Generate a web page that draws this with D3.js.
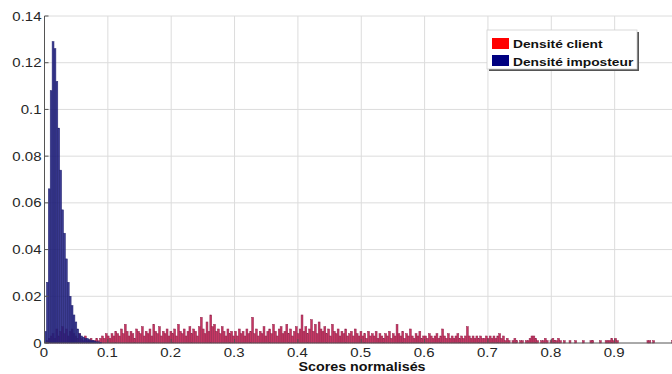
<!DOCTYPE html>
<html><head><meta charset="utf-8">
<script src="https://cdn.jsdelivr.net/npm/d3@7"></script>
<style>body{margin:0;background:#fff;}svg{display:block;}</style>
</head><body>
<svg id="c" width="672" height="374"></svg>
<script>
// histogram bin width (score units)
const binWidth = 0.003;
// Densité imposteur (blue), per bin starting at 0
const imposteur = [0.005,0.026,0.066,0.108,0.129,0.126,0.112,0.092,0.074,0.057,0.047,0.036,0.026,0.020,0.016,0.012,0.009,0.006,0.004,0.003,0.0025,0.002,0.002,0.0015,0.001,0.001,0.0008,0.0005,0.0005,0.0003];
// Densité client (red), per bin starting at 0
const client = [
0.000,0.001,0.002,0.003,0.004,0.002,0.006,0.003,0.005,0.007,0.004,0.006,0.003,0.005,0.006,0.004,0.003,0.002,0.004,0.002,0.001,0.003,0.001,0.001,0.002,0.001,0.001,0.002,0.001,0.002,0.003,0.002,0.004,0.003,
0.002,0.004,0.003,0.005,0.004,0.003,0.006,0.004,0.008,0.005,0.003,0.005,0.004,0.002,0.006,0.005,0.004,0.007,0.003,0.005,0.004,0.006,0.003,0.008,0.005,0.004,0.007,0.003,0.005,0.004,0.006,0.003,0.005,
0.004,0.006,0.003,0.008,0.005,0.004,0.006,0.003,0.005,0.007,0.004,0.006,0.005,0.003,0.007,0.011,0.006,0.004,0.009,0.005,0.012,0.007,0.008,0.005,0.006,0.004,0.007,0.005,0.003,0.006,0.004,0.005,0.003,
0.005,0.003,0.006,0.004,0.005,0.003,0.006,0.004,0.005,0.011,0.004,0.006,0.003,0.005,0.004,0.007,0.003,0.005,0.006,0.004,0.008,0.005,0.003,0.006,0.007,0.004,0.005,0.008,0.004,0.006,0.003,0.005,0.007,0.004,
0.006,0.012,0.005,0.007,0.004,0.006,0.010,0.005,0.008,0.004,0.009,0.006,0.005,0.007,0.004,0.006,0.003,0.008,0.005,0.004,0.006,0.003,0.005,0.004,0.006,0.003,0.004,0.005,0.003,0.006,0.004,0.003,0.005,
0.003,0.004,0.002,0.005,0.003,0.004,0.003,0.005,0.002,0.004,0.003,0.002,0.004,0.003,0.005,0.002,0.004,0.003,0.008,0.004,0.003,0.005,0.002,0.004,0.003,0.006,0.003,0.002,0.004,0.003,0.005,0.002,0.003,
0.003,0.002,0.004,0.003,0.002,0.003,0.004,0.002,0.003,0.006,0.003,0.002,0.004,0.002,0.003,0.002,0.003,0.004,0.002,0.003,0.002,0.003,0.007,0.003,0.002,0.003,0.002,0.003,0.002,0.003,0.002,0.002,0.003,0.002,
0.003,0.002,0.003,0.002,0.003,0.004,0.002,0.003,0.001,0.002,0.001,0.000,0.001,0.002,0.001,0.000,0.001,0.001,0.000,0.001,0.001,0.002,0.003,0.003,0.002,0.001,0.000,0.001,0.001,0.002,0.001,0.000,0.001,
0.002,0.001,0.001,0.002,0.001,0.000,0.001,0.000,0.000,0.001,0.000,0.000,0.001,0.000,0.000,0.000,0.001,0.000,0.000,0.000,0.001,0.001,0.000,0.000,0.000,0.001,0.000,0.000,0.001,0.001,0.001,0.002,0.001,
0.002,0.001,0.000,0.000,0.000,0.000,0.000,0.000,0.000,0.000,0.000,0.000,0.000,0.000,0.000,0.000,0.000,0.001,0.001,0.000,0.001,0.000,0.000,0.000,0.000,0.000,0.000,0.000,0.000,0.000,0.001,0.001,0.000
];
const xTicks = [0,0.1,0.2,0.3,0.4,0.5,0.6,0.7,0.8,0.9,1];
const xTickLabels = ["0","0.1","0.2","0.3","0.4","0.5","0.6","0.7","0.8","0.9"];
const yTicks = [0,0.02,0.04,0.06,0.08,0.1,0.12,0.14];
const yTickLabels = ["0","0.02","0.04","0.06","0.08","0.1","0.12","0.14"];
const xLabel = "Scores normalisés";
const legendLabels = ["Densité client","Densité imposteur"];
const legendColors = ["#ff0000","#000080"];

const svg = d3.select("#c");
const x = d3.scaleLinear().domain([0,1]).range([44.5,678]);
const y = d3.scaleLinear().domain([0,0.14]).range([343,16]);
const font = "'Liberation Sans', Arial, sans-serif";

function stretchedText(g, tx, ty, txt, opts){
  return g.append("g").attr("transform",`translate(${tx},${ty})`)
    .append("text").attr("transform",`scale(${opts.sx||1.2},1)`)
    .attr("text-anchor",opts.anchor||"middle")
    .attr("font-family",font).attr("font-size",opts.size||12.5)
    .attr("font-weight",opts.weight||"normal")
    .attr("fill",opts.fill||"#262626")
    .text(txt);
}

// grid
svg.append("g").selectAll("line").data(xTicks.filter(d=>d>0)).join("line")
  .attr("x1",d=>x(d)).attr("x2",d=>x(d)).attr("y1",y(0.14)).attr("y2",y(0))
  .attr("stroke","#dcdcdc").attr("stroke-width",1);
svg.append("g").selectAll("line").data(yTicks.filter(d=>d>0)).join("line")
  .attr("x1",x(0)).attr("x2",x(1)).attr("y1",d=>y(d)).attr("y2",d=>y(d))
  .attr("stroke","#dcdcdc").attr("stroke-width",1);

// red bars (client)
svg.append("g").selectAll("rect").data(client).join("rect")
  .attr("x",(d,i)=>x(i*binWidth)).attr("width",x(binWidth)-x(0))
  .attr("y",d=>y(d)).attr("height",d=>y(0)-y(d))
  .attr("fill","#c63662").attr("stroke","#92264e").attr("stroke-width",0.5);

// blue bars (imposteur), semi-transparent over red
svg.append("g").selectAll("rect").data(imposteur).join("rect")
  .attr("x",(d,i)=>x(i*binWidth)).attr("width",x(binWidth)-x(0))
  .attr("y",d=>y(d)).attr("height",d=>y(0)-y(d))
  .attr("fill","#1c1c80").attr("fill-opacity",0.86)
  .attr("stroke","#24246e").attr("stroke-width",0.5);

// axes lines
svg.append("line").attr("x1",x(0)).attr("x2",x(0)).attr("y1",y(0.14)).attr("y2",y(0))
  .attr("stroke","#555").attr("stroke-width",1);
svg.append("line").attr("x1",x(0)).attr("x2",x(1)).attr("y1",y(0)).attr("y2",y(0))
  .attr("stroke","#555").attr("stroke-width",1);
// inward ticks
svg.append("g").selectAll("line").data(yTicks).join("line")
  .attr("x1",x(0)).attr("x2",x(0)+4).attr("y1",d=>y(d)).attr("y2",d=>y(d))
  .attr("stroke","#555");
svg.append("g").selectAll("line").data(xTicks).join("line")
  .attr("x1",d=>x(d)).attr("x2",d=>x(d)).attr("y1",y(0)).attr("y2",y(0)-4)
  .attr("stroke","#555");

// tick labels
const tg = svg.append("g");
yTicks.forEach((v,i)=>{
  stretchedText(tg, x(0)-3, y(v)+4.5, yTickLabels[i], {anchor:"end"});
});
xTickLabels.forEach((lab,i)=>{
  stretchedText(tg, x(xTicks[i])-0.5, 357, lab, {anchor:"middle"});
});
// x axis title
stretchedText(tg, 362, 371, xLabel, {anchor:"middle", size:13, weight:"bold", sx:1.1, fill:"#111"});

// legend
const lg = svg.append("g");
lg.append("rect").attr("x",489).attr("y",32).attr("width",150).attr("height",39)
  .attr("fill","#555");
lg.append("rect").attr("x",487).attr("y",30).attr("width",150).attr("height",39)
  .attr("fill","#fff").attr("stroke","#d0d0d0").attr("stroke-width",0.8);
legendLabels.forEach((lab,i)=>{
  lg.append("rect").attr("x",492).attr("y",38+i*17).attr("width",17).attr("height",11)
    .attr("fill",legendColors[i]);
  stretchedText(lg, 513, 48+i*17.5, lab, {anchor:"start", size:11.5, weight:"bold", sx:1.2, fill:"#111"});
});
</script>
</body></html>
